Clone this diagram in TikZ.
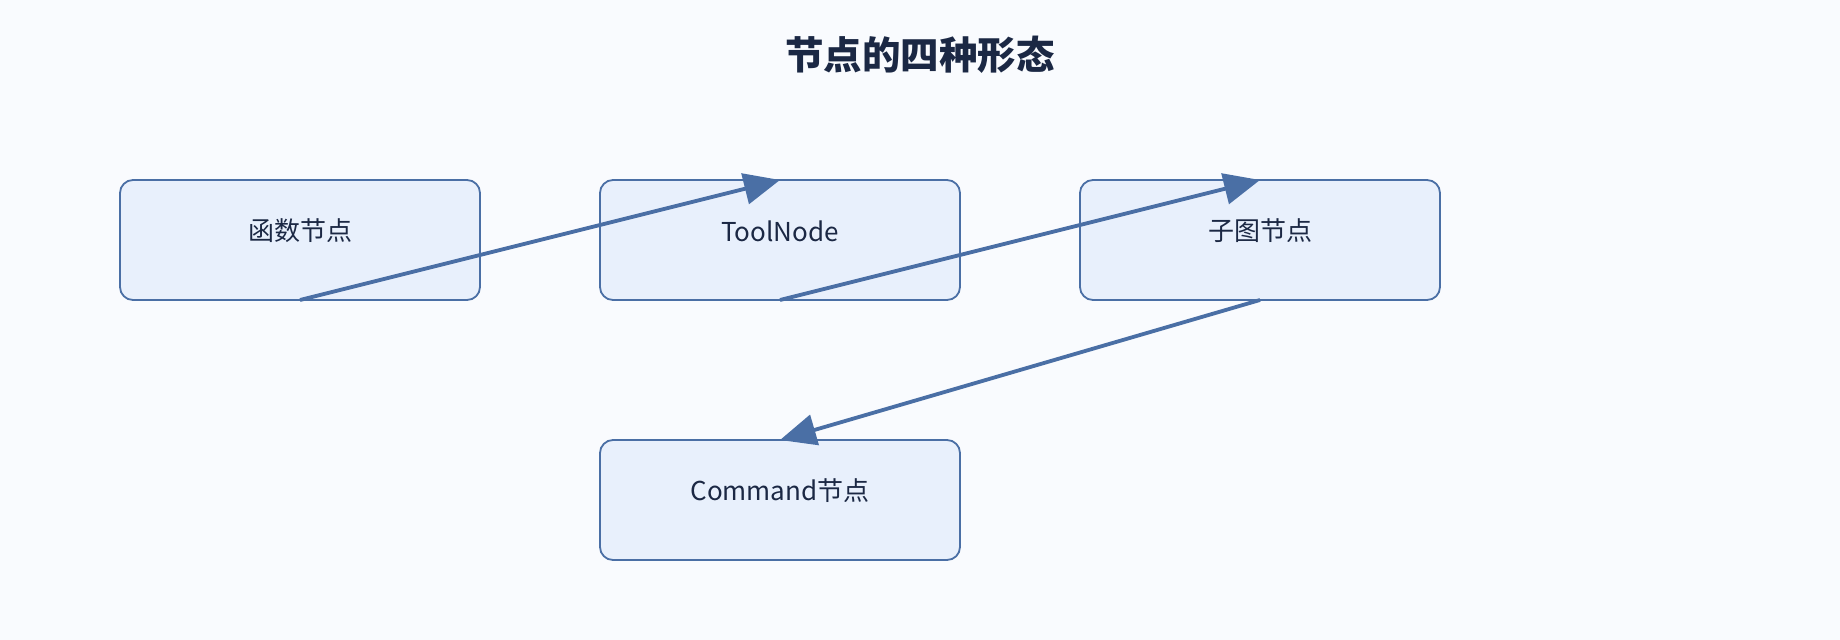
\documentclass[tikz,border=0pt]{standalone}
\usepackage{fontspec}
\setmainfont{Noto Sans CJK SC}
\usetikzlibrary{arrows.meta}
\definecolor{bgc}{HTML}{F9FBFE}
\definecolor{boxfill}{HTML}{E8F0FC}
\definecolor{boxline}{HTML}{4A6FA5}
\definecolor{txt}{HTML}{1B2844}
\tikzset{
  statebox/.style={draw=boxline, fill=boxfill, line width=1.8pt, rounded corners=13pt,
    minimum width=360pt, minimum height=120pt, outer sep=0pt, inner sep=0pt},
  boxtext/.style={text=txt, font=\fontsize{26}{31}\selectfont, inner sep=0pt},
  link/.style={draw=boxline, line width=3.8pt, -{Triangle[length=36pt,width=31pt]}}
}
\begin{document}
\begin{tikzpicture}[x=1pt,y=-1pt]
\fill[bgc] (0,0) rectangle (1840,640);
\useasboundingbox (0,0) rectangle (1840,640);
\node[text=txt, font=\fontsize{38.5}{46}\selectfont\bfseries, inner sep=0pt] (title) at (920,55) {节点的四种形态};
\node[statebox] (b1) at (300,240) {};
\node[statebox] (b2) at (780,240) {};
\node[statebox] (b3) at (1260,240) {};
\node[statebox] (b4) at (780,500) {};
\node[boxtext] (t1) at ([yshift=9pt]b1.center) {函数节点};
\node[boxtext] (t2) at ([yshift=9pt]b2.center) {ToolNode};
\node[boxtext] (t3) at ([yshift=9pt]b3.center) {子图节点};
\node[boxtext] (t4) at ([yshift=9pt]b4.center) {Command节点};
\draw[link] (b1.south) -- (b2.north);
\draw[link] (b2.south) -- (b3.north);
\draw[link] (b3.south) -- (b4.north);
\end{tikzpicture}
\end{document}
